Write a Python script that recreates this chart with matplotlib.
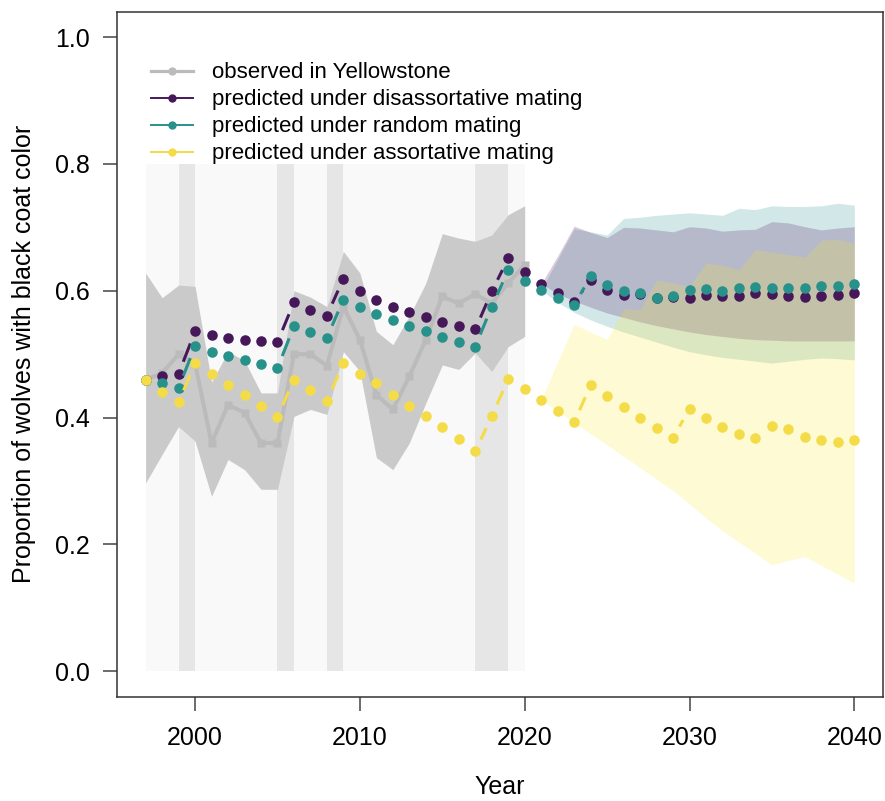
import numpy as np
import matplotlib
matplotlib.use("Agg")
import matplotlib.pyplot as plt
from matplotlib.collections import LineCollection
from matplotlib.lines import Line2D

plt.rcParams["font.family"] = ["Liberation Sans", "DejaVu Sans"]

# observed Yellowstone series, 1997-2020
obs_years = np.arange(1997, 2021)
obs_mean = [0.46, 0.47, 0.50, 0.485, 0.36, 0.42, 0.408, 0.36, 0.36, 0.50, 0.50, 0.482,
            0.575, 0.523, 0.436, 0.413, 0.465, 0.523, 0.591, 0.58, 0.595, 0.58, 0.612, 0.641]
obs_hi = [0.628, 0.589, 0.609, 0.607, 0.456, 0.504, 0.49, 0.439, 0.439, 0.60, 0.59, 0.575,
          0.662, 0.628, 0.536, 0.515, 0.56, 0.612, 0.69, 0.683, 0.678, 0.688, 0.72, 0.734]
obs_lo = [0.297, 0.342, 0.386, 0.363, 0.276, 0.334, 0.318, 0.287, 0.287, 0.402, 0.413, 0.405,
          0.504, 0.473, 0.337, 0.318, 0.36, 0.423, 0.483, 0.476, 0.502, 0.473, 0.512, 0.528]

# years with a shaded band (start, end)
shade_spans = [(1999, 2000), (2005, 2006), (2008, 2009), (2017, 2019)]

# model predictions, 1997-2040
pred_years = np.arange(1997, 2041)
dis_mean = [0.46, 0.465, 0.469, 0.536, 0.531, 0.526, 0.523, 0.521, 0.519, 0.582, 0.570, 0.561,
            0.619, 0.600, 0.586, 0.575, 0.566, 0.558, 0.551, 0.545, 0.539, 0.599, 0.651, 0.630,
            0.611, 0.596, 0.582, 0.617, 0.601, 0.594, 0.595, 0.588, 0.590, 0.588, 0.594, 0.591,
            0.591, 0.596, 0.595, 0.591, 0.590, 0.591, 0.594, 0.596]
rnd_mean = [0.46, 0.454, 0.447, 0.513, 0.504, 0.497, 0.491, 0.485, 0.478, 0.544, 0.535, 0.526,
            0.586, 0.574, 0.564, 0.554, 0.544, 0.536, 0.527, 0.520, 0.512, 0.575, 0.632, 0.615,
            0.601, 0.588, 0.577, 0.623, 0.609, 0.600, 0.596, 0.589, 0.592, 0.601, 0.603, 0.599,
            0.605, 0.606, 0.605, 0.605, 0.604, 0.607, 0.608, 0.611]
asr_mean = [0.46, 0.441, 0.424, 0.486, 0.468, 0.452, 0.435, 0.419, 0.401, 0.460, 0.443, 0.426,
            0.486, 0.469, 0.454, 0.436, 0.419, 0.402, 0.385, 0.367, 0.347, 0.402, 0.461, 0.445,
            0.428, 0.411, 0.393, 0.451, 0.434, 0.417, 0.400, 0.384, 0.368, 0.414, 0.399, 0.385,
            0.374, 0.368, 0.387, 0.382, 0.369, 0.364, 0.362, 0.365]

# forecast intervals, 2021-2040
fc_years = np.arange(2021, 2041)
dis_lo = [0.611, 0.595, 0.584, 0.574, 0.565, 0.558, 0.551, 0.545, 0.540, 0.535,
          0.531, 0.528, 0.525, 0.523, 0.522, 0.521, 0.521, 0.521, 0.521, 0.521]
dis_hi = [0.611, 0.655, 0.702, 0.692, 0.684, 0.700, 0.699, 0.696, 0.693, 0.701,
          0.699, 0.694, 0.696, 0.697, 0.709, 0.707, 0.701, 0.696, 0.699, 0.701]
rnd_lo = [0.601, 0.582, 0.566, 0.554, 0.544, 0.535, 0.527, 0.519, 0.511, 0.504,
          0.499, 0.495, 0.492, 0.489, 0.486, 0.489, 0.492, 0.494, 0.493, 0.491]
rnd_hi = [0.601, 0.650, 0.698, 0.693, 0.688, 0.714, 0.716, 0.719, 0.721, 0.723,
          0.721, 0.719, 0.730, 0.728, 0.734, 0.733, 0.733, 0.734, 0.738, 0.735]
asr_lo = [0.428, 0.410, 0.392, 0.375, 0.357, 0.339, 0.321, 0.303, 0.285, 0.264,
          0.242, 0.222, 0.204, 0.186, 0.168, 0.175, 0.181, 0.167, 0.153, 0.139]
asr_hi = [0.428, 0.488, 0.547, 0.535, 0.523, 0.572, 0.570, 0.617, 0.612, 0.607,
          0.644, 0.640, 0.633, 0.665, 0.661, 0.657, 0.653, 0.680, 0.681, 0.675]

labels = ["observed in Yellowstone",
          "predicted under disassortative mating",
          "predicted under random mating",
          "predicted under assortative mating"]

c_obs = "#BBBBBB"
c_dis = "#46185A"
c_rnd = "#27918A"
c_asr = "#F3DC48"
vir = ["#440154", "#21908C", "#FDE725"]

fig = plt.figure(figsize=(8.85, 8.01), dpi=100)
ax = fig.add_axes([0.1325, 0.1302, 0.8649, 0.8552])
ax.set_xlim(1997 - 0.04 * 43, 2040 + 0.04 * 43)
ax.set_ylim(-0.04, 1.04)

# background for the observation period
ax.fill_between([obs_years[0], obs_years[-1]], 0, 0.8, color="#F9F9F9", lw=0, zorder=0)
for a, b in shade_spans:
    ax.fill_between([a, b], 0, 0.8, color="#E6E6E6", lw=0, zorder=0.5)

# observed interval and series
ax.fill_between(obs_years, obs_lo, obs_hi, color="#CACACA", lw=0, zorder=1)
ax.plot(obs_years, obs_mean, color=c_obs, lw=2.9, marker="s", ms=5.8, mec="none", zorder=2)

# forecast intervals
ax.fill_between(fc_years, rnd_lo, rnd_hi, color=vir[1], alpha=0.2, lw=0, zorder=1)
ax.fill_between(fc_years, dis_lo, dis_hi, color=vir[0], alpha=0.2, lw=0, zorder=1)
ax.fill_between(fc_years, asr_lo, asr_hi, color=vir[2], alpha=0.2, lw=0, zorder=1)


def gapped(ax, x, y, gap_px=13.0):
    # lines between points with a gap round each point, like type="b"
    pts = ax.transData.transform(np.column_stack([x, y]))
    inv = ax.transData.inverted()
    segs = []
    for p0, p1 in zip(pts[:-1], pts[1:]):
        d = p1 - p0
        L = np.hypot(d[0], d[1])
        if L > 2 * gap_px:
            u = d / L
            segs.append(inv.transform(np.array([p0 + u * gap_px, p1 - u * gap_px])))
    return segs


for ys, col, z in [(dis_mean, c_dis, 3), (rnd_mean, c_rnd, 4), (asr_mean, c_asr, 5)]:
    ax.add_collection(LineCollection(gapped(ax, pred_years, ys), colors=col, lw=2.2,
                                     zorder=z, capstyle="butt"))
    ax.plot(pred_years, ys, ls="none", marker="o", ms=7.6, color=col, mec="none", zorder=z)

ax.set_xticks([2000, 2010, 2020, 2030, 2040])
ax.set_yticks([0.0, 0.2, 0.4, 0.6, 0.8, 1.0])
ax.set_yticklabels(["0.0", "0.2", "0.4", "0.6", "0.8", "1.0"])
ax.tick_params(direction="out", length=10, width=1.1, color="#444444", labelsize=18)
ax.tick_params(axis="y", pad=10)
ax.tick_params(axis="x", pad=11)
for s in ax.spines.values():
    s.set_linewidth(1.1)
    s.set_color("#333333")

ax.set_xlabel("Year", fontsize=18)
ax.set_ylabel("Proportion of wolves with black coat color", fontsize=18)
ax.xaxis.set_label_coords(0.5, -0.115)
ax.yaxis.set_label_coords(-0.106, 0.5)

handles = [Line2D([], [], color=c_obs, lw=2.3, marker="o", ms=6, mec="none"),
           Line2D([], [], color=c_dis, lw=1.4, marker="o", ms=6, mec="none"),
           Line2D([], [], color=c_rnd, lw=1.4, marker="o", ms=6, mec="none"),
           Line2D([], [], color=c_asr, lw=1.4, marker="o", ms=6, mec="none")]
ax.legend(handles, labels, loc="upper left", bbox_to_anchor=(0.0436, 0.926),
          frameon=False, fontsize=16, handlelength=1.9, handletextpad=0.85,
          labelspacing=0.27, borderpad=0, borderaxespad=0)

fig.savefig("out.png", dpi=100)
